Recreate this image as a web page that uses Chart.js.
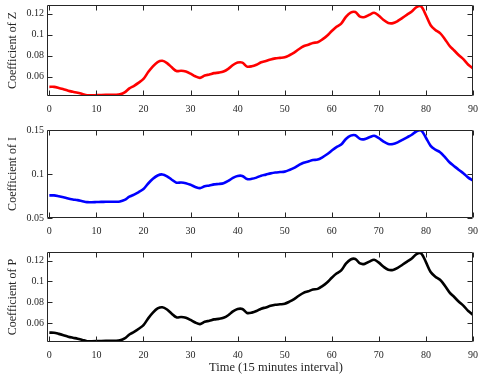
<!DOCTYPE html>
<html>
<head>
<meta charset="utf-8">
<script src="https://cdn.jsdelivr.net/npm/chart.js@4"></script>
<style>
  html, body { margin: 0; padding: 0; background: #fff; }
  #wrap { position: relative; width: 478px; height: 377px; }
  canvas { position: absolute; left: 0; }
</style>
</head>
<body>
<div id="wrap">
  <canvas id="cZ" width="478" height="120" style="top:0px;width:478px;height:120px"></canvas>
  <canvas id="cI" width="478" height="125" style="top:120px;width:478px;height:125px"></canvas>
  <canvas id="cP" width="478" height="132" style="top:245px;width:478px;height:132px"></canvas>
</div>
<script>
// time index (15 minute steps)
const timeIdx = Array.from({ length: 91 }, (_, i) => i);
const xTicks = [0, 10, 20, 30, 40, 50, 60, 70, 80, 90];

const coefZ = [
  0.0505, 0.0505, 0.0495, 0.0482, 0.0468, 0.0458, 0.0449, 0.0437, 0.0425, 0.0424,
  0.0426, 0.0428, 0.0429, 0.0429, 0.0430, 0.0434, 0.0452, 0.0490, 0.0515, 0.0545,
  0.0580, 0.0645, 0.0700, 0.0740, 0.0752, 0.0730, 0.0690, 0.0655, 0.0658, 0.0650,
  0.0630, 0.0605, 0.0590, 0.0612, 0.0622, 0.0635, 0.0640, 0.0650, 0.0675, 0.0712,
  0.0735, 0.0735, 0.0697, 0.0700, 0.0715, 0.0738, 0.0750, 0.0765, 0.0775, 0.0780,
  0.0785, 0.0805, 0.0830, 0.0862, 0.0890, 0.0905, 0.0922, 0.0928, 0.0955, 0.0990,
  0.1035, 0.1075, 0.1105, 0.1170, 0.1210, 0.1215, 0.1172, 0.1168, 0.1190, 0.1208,
  0.1180, 0.1140, 0.1112, 0.1110, 0.1130, 0.1160, 0.1190, 0.1220, 0.1262, 0.1268,
  0.1185, 0.1090, 0.1045, 0.1015, 0.0960, 0.0895, 0.0850, 0.0805, 0.0765, 0.0715,
  0.0680
];

const coefI = [
  0.0757, 0.0757, 0.0747, 0.0735, 0.0721, 0.0711, 0.0703, 0.0691, 0.0680, 0.0679,
  0.0681, 0.0683, 0.0684, 0.0684, 0.0685, 0.0688, 0.0706, 0.0742, 0.0766, 0.0795,
  0.0829, 0.0892, 0.0945, 0.0983, 0.0995, 0.0974, 0.0935, 0.0901, 0.0904, 0.0896,
  0.0877, 0.0853, 0.0839, 0.0860, 0.0869, 0.0882, 0.0887, 0.0896, 0.0921, 0.0956,
  0.0978, 0.0978, 0.0942, 0.0945, 0.0959, 0.0981, 0.0993, 0.1007, 0.1017, 0.1022,
  0.1027, 0.1046, 0.1070, 0.1101, 0.1128, 0.1142, 0.1159, 0.1164, 0.1190, 0.1224,
  0.1267, 0.1306, 0.1335, 0.1398, 0.1436, 0.1441, 0.1399, 0.1396, 0.1417, 0.1434,
  0.1407, 0.1369, 0.1342, 0.1340, 0.1359, 0.1388, 0.1417, 0.1446, 0.1486, 0.1495,
  0.1412, 0.1320, 0.1277, 0.1248, 0.1195, 0.1133, 0.1089, 0.1046, 0.1007, 0.0959,
  0.0925
];

const coefP = [
  0.0508, 0.0507, 0.0496, 0.0483, 0.0469, 0.0459, 0.0450, 0.0438, 0.0426, 0.0425,
  0.0426, 0.0428, 0.0429, 0.0429, 0.0430, 0.0434, 0.0452, 0.0490, 0.0515, 0.0545,
  0.0580, 0.0645, 0.0700, 0.0740, 0.0752, 0.0730, 0.0690, 0.0655, 0.0658, 0.0650,
  0.0630, 0.0605, 0.0590, 0.0612, 0.0622, 0.0635, 0.0640, 0.0650, 0.0675, 0.0712,
  0.0735, 0.0735, 0.0697, 0.0700, 0.0715, 0.0738, 0.0750, 0.0765, 0.0775, 0.0780,
  0.0785, 0.0805, 0.0830, 0.0862, 0.0890, 0.0905, 0.0922, 0.0928, 0.0955, 0.0990,
  0.1035, 0.1075, 0.1105, 0.1170, 0.1210, 0.1215, 0.1172, 0.1168, 0.1190, 0.1208,
  0.1180, 0.1140, 0.1112, 0.1110, 0.1130, 0.1160, 0.1190, 0.1220, 0.1262, 0.1268,
  0.1185, 0.1090, 0.1045, 0.1015, 0.0960, 0.0895, 0.0850, 0.0805, 0.0765, 0.0715,
  0.0680
];

const yTicksZ = [0.06, 0.08, 0.1, 0.12];
const yTicksI = [0.05, 0.1, 0.15];
const yTicksP = [0.06, 0.08, 0.1, 0.12];

const FONT = 'Liberation Serif';
const INK = '#262626';

// matlab style box with inward ticks
const boxPlugin = {
  id: 'box',
  afterDraw(chart) {
    const { ctx, chartArea: a, scales: { x, y } } = chart;
    const L = Math.round(a.left) + 0.5, R = Math.round(a.right) - 0.5;
    const T = Math.round(a.top) + 0.5, B = Math.round(a.bottom) - 0.5;
    ctx.save();
    ctx.strokeStyle = INK;
    ctx.lineWidth = 1;
    ctx.beginPath();
    ctx.rect(L, T, R - L, B - T);
    x.ticks.forEach(t => {
      const px = Math.round(x.getPixelForValue(t.value)) + 0.5;
      ctx.moveTo(px, B); ctx.lineTo(px, B - 5);
      ctx.moveTo(px, T); ctx.lineTo(px, T + 5);
    });
    y.ticks.forEach(t => {
      const py = Math.round(y.getPixelForValue(t.value)) + 0.5;
      ctx.moveTo(L, py); ctx.lineTo(L + 5, py);
      ctx.moveTo(R, py); ctx.lineTo(R - 5, py);
    });
    ctx.stroke();
    const xt = chart.options.plugins.box.xTitle;
    if (xt) {
      ctx.fillStyle = INK;
      ctx.font = '12.5px "' + FONT + '"';
      ctx.textAlign = 'center';
      ctx.textBaseline = 'middle';
      ctx.fillText(xt, 276, chart.height - 9);
    }
    ctx.restore();
  }
};

function makeChart(id, values, color, yMin, yMax, yTicks, yTitle, topPad, xAxisH, xTitle) {
  return new Chart(document.getElementById(id), {
    type: 'line',
    data: {
      datasets: [{
        data: values.map((v, i) => ({ x: timeIdx[i], y: v })),
        borderColor: color,
        borderWidth: 2.6,
        pointRadius: 0,
        tension: 0.3,
        fill: false,
      }]
    },
    options: {
      responsive: false,
      animation: false,
      layout: { padding: { top: topPad, right: 5, left: 0, bottom: 0 } },
      plugins: {
        legend: { display: false },
        tooltip: { enabled: false },
        box: { xTitle: xTitle },
      },
      scales: {
        x: {
          type: 'linear',
          min: -0.5,
          max: 90,
          grid: { display: false, drawTicks: false, tickLength: 0 },
          border: { display: false },
          ticks: {
            padding: 7,
            maxRotation: 0,
            autoSkip: false,
            color: INK,
            font: { family: FONT, size: 10 },
          },
          afterBuildTicks: s => { s.ticks = xTicks.map(v => ({ value: v })); },
          afterFit: s => {
            s.height = xAxisH;
            s.paddingLeft = 0; s.paddingRight = 0;
          },
        },
        y: {
          min: yMin,
          max: yMax,
          grid: { display: false, drawTicks: false, tickLength: 0 },
          border: { display: false },
          ticks: {
            padding: 3,
            color: INK,
            font: { family: FONT, size: 10 },
            callback: v => String(+v.toFixed(2)),
          },
          title: {
            display: true,
            text: yTitle,
            color: INK,
            font: { family: FONT, size: 12 },
            padding: { top: 6, bottom: 0 },
          },
          afterBuildTicks: s => { s.ticks = yTicks.map(v => ({ value: v })); },
          afterFit: s => {
            s.width = 47;
            s.paddingTop = 0; s.paddingBottom = 0;
          },
        }
      }
    },
    plugins: [boxPlugin]
  });
}

makeChart('cZ', coefZ, '#ff0000', 0.0418, 0.1282, yTicksZ, 'Coefficient of Z', 5, 24, null);
makeChart('cI', coefI, '#0000ff', 0.05, 0.15, yTicksI, 'Coefficient of I', 10, 27, null);
makeChart('cP', coefP, '#000000', 0.0418, 0.1282, yTicksP, 'Coefficient of P', 7, 35, 'Time (15 minutes interval)');
</script>
</body>
</html>
